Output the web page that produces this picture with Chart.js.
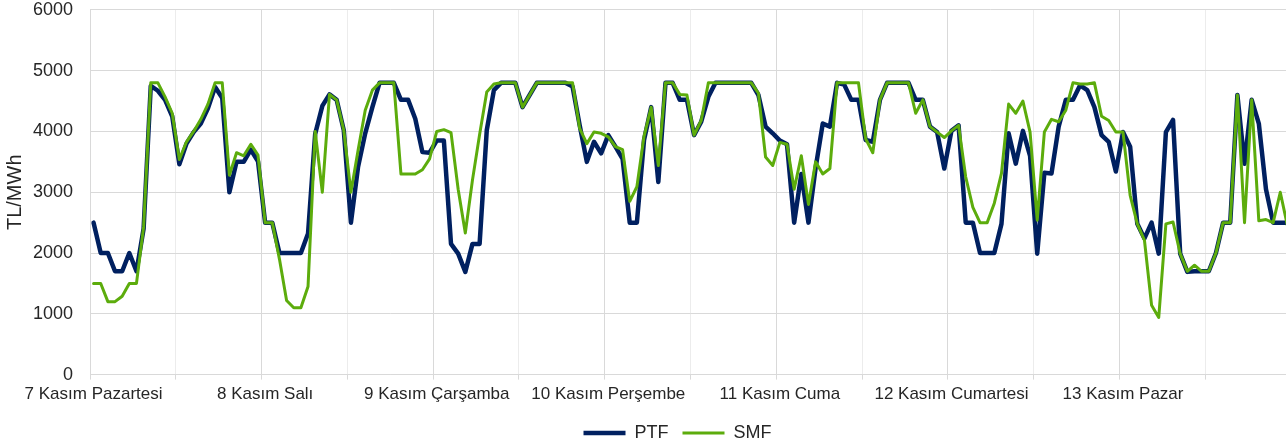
<!DOCTYPE html>
<html lang="tr">
<head>
<meta charset="utf-8">
<title>PTF - SMF</title>
<script src="https://cdn.jsdelivr.net/npm/chart.js@4.4.0/dist/chart.umd.min.js"></script>
<style>
  html, body { margin: 0; padding: 0; background: #fff; overflow: hidden; }
  #wrap { width: 1300px; height: 452px; }
</style>
</head>
<body>
<div id="wrap"><canvas id="chart"></canvas></div>
<script>
const days = ['7 Kasım Pazartesi', '8 Kasım Salı', '9 Kasım Çarşamba', '10 Kasım Perşembe',
  '11 Kasım Cuma', '12 Kasım Cumartesi', '13 Kasım Pazar'];
const hours = ['00:00', '01:00', '02:00', '03:00', '04:00', '05:00', '06:00', '07:00',
  '08:00', '09:00', '10:00', '11:00', '12:00', '13:00', '14:00', '15:00',
  '16:00', '17:00', '18:00', '19:00', '20:00', '21:00', '22:00', '23:00'];

// TL/MWh, hourly, one row per day
const ptf = [
  2500, 2000, 2000, 1700, 1700, 2000, 1700, 2400, 4750, 4670, 4520, 4250, 3460, 3800, 3990, 4130, 4380, 4730, 4550, 3000, 3500, 3500, 3700, 3510,
  2500, 2500, 2000, 2000, 2000, 2000, 2320, 3960, 4420, 4610, 4520, 4020, 2500, 3420, 3970, 4400, 4800, 4800, 4800, 4520, 4520, 4210, 3660, 3650,
  3850, 3850, 2150, 1990, 1690, 2150, 2150, 4020, 4680, 4800, 4800, 4800, 4400, 4600, 4800, 4800, 4800, 4800, 4800, 4740, 4100, 3500, 3830, 3640,
  3940, 3750, 3550, 2500, 2500, 3860, 4400, 3170, 4800, 4800, 4520, 4520, 3940, 4160, 4570, 4800, 4800, 4800, 4800, 4800, 4800, 4600, 4080, 3970,
  3850, 3790, 2500, 3300, 2500, 3400, 4130, 4080, 4800, 4770, 4520, 4520, 3860, 3830, 4520, 4800, 4800, 4800, 4800, 4520, 4520, 4080, 3990, 3390,
  4010, 4100, 2500, 2500, 2000, 2000, 2000, 2480, 3970, 3470, 4010, 3600, 1990, 3320, 3310, 4080, 4520, 4520, 4760, 4680, 4400, 3940, 3830, 3340,
  3990, 3750, 2480, 2240, 2500, 1990, 3990, 4190, 1990, 1690, 1700, 1700, 1700, 2000, 2500, 2500, 4600, 3470, 4520, 4130, 3050, 2500, 2500, 2500
];
const smf = [
  1500, 1500, 1200, 1200, 1290, 1500, 1500, 2430, 4800, 4800, 4570, 4300, 3540, 3830, 4000, 4200, 4450, 4800, 4800, 3280, 3650, 3600, 3790, 3610,
  2500, 2500, 1900, 1220, 1100, 1100, 1450, 4000, 3000, 4610, 4520, 4020, 3000, 3690, 4350, 4680, 4800, 4800, 4800, 3300, 3300, 3300, 3370, 3550,
  4000, 4030, 3980, 3050, 2330, 3200, 3950, 4650, 4780, 4800, 4800, 4800, 4400, 4600, 4800, 4800, 4800, 4800, 4800, 4800, 4050, 3800, 3990, 3970,
  3910, 3750, 3700, 2850, 3090, 3920, 4400, 3440, 4800, 4800, 4610, 4600, 3940, 4180, 4800, 4800, 4800, 4800, 4800, 4800, 4800, 4630, 3580, 3440,
  3820, 3790, 3050, 3600, 2800, 3500, 3300, 3390, 4800, 4800, 4800, 4800, 3880, 3650, 4520, 4800, 4800, 4800, 4800, 4300, 4520, 4080, 3990, 3900,
  4010, 4100, 3250, 2750, 2500, 2500, 2820, 3310, 4450, 4300, 4500, 3990, 2540, 3990, 4200, 4160, 4350, 4800, 4780, 4780, 4800, 4250, 4180, 3990,
  3990, 2950, 2480, 2210, 1140, 940, 2480, 2510, 1990, 1700, 1800, 1700, 1700, 2000, 2500, 2500, 4600, 2500, 4520, 2530, 2550, 2500, 3000, 2450
];

const labels = days.flatMap(d => hours.map(h => d + ' ' + h));

Chart.defaults.font.family = '"Liberation Sans", Arial, sans-serif';
Chart.defaults.color = '#262626';

// the picture is cut off on the right, so the legend sits centred on the wider original
const legendNudge = {
  id: 'legendNudge',
  afterLayout(chart) {
    chart.legend.left += 32;
    chart.legend.right += 32;
  }
};

new Chart(document.getElementById('chart'), {
  type: 'line',
  data: {
    labels: labels,
    datasets: [
      {
        label: 'PTF',
        data: ptf,
        borderColor: '#002060',
        backgroundColor: '#002060',
        borderWidth: 4.5,
        pointBorderWidth: 4.5,
        order: 2
      },
      {
        label: 'SMF',
        data: smf,
        borderColor: '#5cac0c',
        backgroundColor: '#5cac0c',
        borderWidth: 3,
        pointBorderWidth: 3,
        order: 1
      }
    ]
  },
  options: {
    responsive: true,
    maintainAspectRatio: false,
    animation: false,
    layout: { padding: { left: 0, right: 9, top: 0, bottom: 0 } },
    elements: {
      point: { radius: 0, hoverRadius: 0, pointStyle: 'line' },
      line: { tension: 0, borderJoinStyle: 'round', borderCapStyle: 'round' }
    },
    plugins: {
      tooltip: { enabled: false },
      legend: {
        position: 'bottom',
        labels: {
          usePointStyle: true,
          pointStyle: 'line',
          pointStyleWidth: 42,
          padding: 14,
          color: '#262626',
          font: { size: 18 },
          sort: (a, b) => a.datasetIndex - b.datasetIndex
        }
      }
    },
    scales: {
      x: {
        offset: true,
        grid: {
          offset: true,
          tickLength: 5,
          color: c => c.index % 24 === 0 ? '#d9d9d9' : (c.index % 12 === 0 ? '#ececec' : 'rgba(0,0,0,0)'),
          tickColor: c => c.index % 12 === 0 ? '#d9d9d9' : 'rgba(0,0,0,0)'
        },
        border: { color: '#d9d9d9' },
        ticks: {
          autoSkip: false,
          maxRotation: 0,
          minRotation: 0,
          padding: 5,
          font: { size: 17 },
          callback: (v, i) => i % 24 === 0 ? days[i / 24] : ''
        }
      },
      y: {
        min: 0,
        max: 6000,
        ticks: {
          stepSize: 1000,
          padding: 0,
          font: { size: 18, lineHeight: 1.1 },
          callback: v => String(v)
        },
        // invisible tick marks keep the labels away from the plot
        grid: { color: '#d9d9d9', drawTicks: true, tickLength: 17, tickColor: 'rgba(0,0,0,0)' },
        border: { display: false },
        title: {
          display: true,
          text: 'TL/MWh',
          font: { size: 20 },
          padding: { top: 3, bottom: 0 }
        },
        afterFit: s => { s.width = 90; }
      }
    }
  },
  plugins: [legendNudge]
});
</script>
</body>
</html>
